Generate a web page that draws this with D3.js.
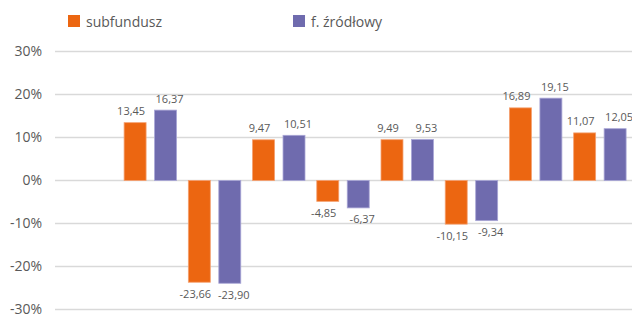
<!DOCTYPE html>
<html>
<head>
<meta charset="utf-8">
<script src="https://cdn.jsdelivr.net/npm/d3@7"></script>
<style>
  body { margin: 0; background: #fff; }
  text { font-family: "Open Sans", sans-serif; fill: #595959; }
</style>
</head>
<body>
<svg id="chart" width="632" height="316"></svg>
<script>
(function() {

  // first category is empty in the source chart
  var categories = ["", "1", "2", "3", "4", "5", "6", "7", "8"];
  var seriesNames = ["subfundusz", "f. źródłowy"];
  var subfundusz = [null, 13.45, -23.66, 9.47, -4.85, 9.49, -10.15, 16.89, 11.07];
  var zrodlowy = [null, 16.37, -23.90, 10.51, -6.37, 9.53, -9.34, 19.15, 12.05];
  var yTicks = [-30, -20, -10, 0, 10, 20, 30];

  var colors = ["#EC6611", "#6F6BAE"];
  var strokes = ["#F4A070", "#A9A6D6"];
  var labelShift = [-4, 4];

  var svg = d3.select("#chart");

  var x0 = d3.scaleBand().domain(categories).range([54, 632]).padding(0);
  var x1 = d3.scaleBand().domain([0, 1]).range([0, x0.bandwidth()])
    .paddingInner(0.246).paddingOuter(0.177);
  var y = d3.scaleLinear().domain([-30, 30]).range([309, 51]);

  // gridlines
  svg.append("g").selectAll("line")
    .data(yTicks)
    .enter().append("line")
    .attr("x1", 55).attr("x2", 632)
    .attr("y1", d => y(d) + 0.5).attr("y2", d => y(d) + 0.5)
    .attr("stroke", "#D9D9D9")
    .attr("stroke-width", 1.3);

  // y axis labels
  svg.append("g").selectAll("text")
    .data(yTicks)
    .enter().append("text")
    .attr("x", 42)
    .attr("y", d => y(d) + 5)
    .attr("text-anchor", "end")
    .attr("font-size", "14px")
    .text(d => d + "%");

  var data = categories.map(function(c, i) {
    return {cat : c, values : [subfundusz[i], zrodlowy[i]]};
  }).filter(d => d.values[0] !== null);

  var groups = svg.append("g").selectAll("g")
    .data(data)
    .enter().append("g")
    .attr("transform", d => "translate(" + x0(d.cat) + ",0)");

  groups.selectAll("rect")
    .data(d => d.values.map((v, s) => ({v : v, s : s})))
    .enter().append("rect")
    .attr("x", d => x1(d.s) + 0.5)
    .attr("width", x1.bandwidth() - 1)
    .attr("y", d => Math.min(y(d.v), y(0)) + 0.5)
    .attr("height", d => Math.abs(y(d.v) - y(0)))
    .attr("fill", d => colors[d.s])
    .attr("stroke", d => strokes[d.s])
    .attr("stroke-width", 0.8);

  groups.selectAll("text")
    .data(d => d.values.map((v, s) => ({v : v, s : s})))
    .enter().append("text")
    .attr("x", d => x1(d.s) + x1.bandwidth() / 2 + labelShift[d.s])
    .attr("y", d => d.v >= 0 ? y(d.v) - 7 : y(d.v) + 16)
    .attr("text-anchor", "middle")
    .attr("font-size", "11px")
    .text(d => d.v.toFixed(2).replace(".", ","));

  // legend
  var legendX = [68, 293];
  var legend = svg.append("g").selectAll("g")
    .data(seriesNames)
    .enter().append("g")
    .attr("transform", (d, i) => "translate(" + legendX[i] + ",15)");

  legend.append("rect")
    .attr("width", 12).attr("height", 12)
    .attr("fill", (d, i) => colors[i]);

  legend.append("text")
    .attr("x", 18).attr("y", 11.5)
    .attr("font-size", "14px")
    .text(d => d);

})();
</script>
</body>
</html>
